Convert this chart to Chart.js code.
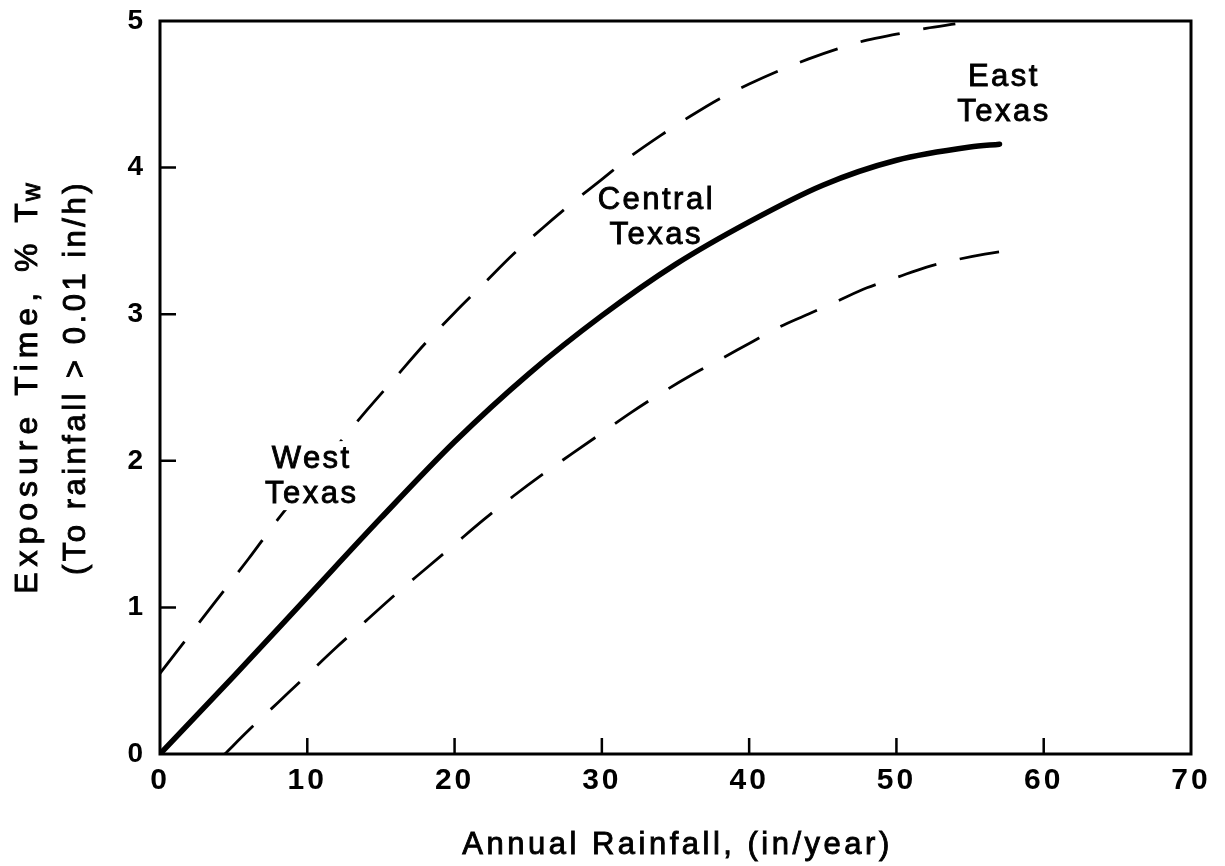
<!DOCTYPE html>
<html lang="en">
  <head>
    <meta charset="UTF-8" />
    <title>Exposure Time vs Annual Rainfall</title>
    <script src="https://cdn.jsdelivr.net/npm/chart.js"></script>
    <style>
      body { margin: 0; background: #fff; }
      #wrap { width: 1225px; height: 866px; position: relative; }
    </style>
  </head>
  <body>
    <div id="wrap"><canvas id="rainChart"></canvas></div>

    <script>
      // values
      const xTicks = [0, 10, 20, 30, 40, 50, 60, 70];
      const yTicks = [0, 1, 2, 3, 4, 5];

      const solidX = [0, 5, 10, 15, 20, 25, 30, 35, 40, 45, 50, 55, 57];
      const solidY = [0, 0.53, 1.07, 1.61, 2.13, 2.59, 2.99, 3.34, 3.63, 3.88, 4.05, 4.14, 4.16];

      const upperX = [0, 2, 4, 6, 8, 10, 12, 14, 16, 18, 20, 22, 24, 26, 28, 30, 32, 34, 36, 38, 40, 42, 44, 46, 48, 50, 52, 54];
      const upperY = [0.55, 0.81, 1.07, 1.33, 1.6, 1.85, 2.1, 2.34, 2.57, 2.8, 3.01, 3.21, 3.41, 3.59, 3.76, 3.92, 4.08, 4.22, 4.35, 4.47, 4.57, 4.66, 4.74, 4.81, 4.87, 4.91, 4.95, 4.98];

      const lowerX = [4.4, 6, 8, 10, 12, 14, 16, 18, 20, 22, 24, 26, 28, 30, 32, 34, 36, 38, 40, 42, 44, 46, 48, 50, 52, 54, 56, 58];
      const lowerY = [0, 0.16, 0.35, 0.54, 0.73, 0.91, 1.09, 1.26, 1.43, 1.6, 1.76, 1.91, 2.05, 2.19, 2.33, 2.46, 2.58, 2.69, 2.8, 2.91, 3.0, 3.09, 3.18, 3.25, 3.32, 3.37, 3.41, 3.44];

      // West Texas sits over the upper dashed curve, which breaks for it
      const regionLabels = [
        { lines: ['West', 'Texas'], x: 10.3, y: 1.95, knockout: true },
        { lines: ['Central', 'Texas'], x: 33.7, y: 3.72, knockout: false },
        { lines: ['East', 'Texas'], x: 57.3, y: 4.56, knockout: false },
      ];

      const toPoints = (xs, ys) => xs.map((x, i) => ({ x: x, y: ys[i] }));
      const FONT = '"Liberation Sans", Arial, Helvetica, sans-serif';

      // medium-weight text: fill plus a thin outline
      function heavyText(ctx, t, x, y) {
        ctx.fillText(t, x, y);
        ctx.strokeText(t, x, y);
      }

      // box, inward ticks, region labels and axis titles
      const frame = {
        id: 'frame',
        beforeDraw(chart) {
          chart.ctx.letterSpacing = '3px';
        },
        afterDatasetsDraw(chart) {
          const { ctx, chartArea: a, scales } = chart;
          ctx.save();
          ctx.strokeStyle = '#000';
          ctx.lineWidth = 3;
          ctx.strokeRect(a.left, a.top, a.right - a.left, a.bottom - a.top);

          ctx.lineWidth = 2.5;
          ctx.beginPath();
          xTicks.slice(1, -1).forEach((v) => {
            const px = scales.x.getPixelForValue(v);
            ctx.moveTo(px, a.bottom);
            ctx.lineTo(px, a.bottom - 16);
          });
          yTicks.slice(1, -1).forEach((v) => {
            const py = scales.y.getPixelForValue(v);
            ctx.moveTo(a.left, py);
            ctx.lineTo(a.left + 16, py);
          });
          ctx.stroke();

          ctx.lineWidth = 0.9;
          ctx.letterSpacing = '2.5px';
          ctx.font = '31px ' + FONT;
          ctx.textAlign = 'center';
          ctx.textBaseline = 'alphabetic';
          regionLabels.forEach((l) => {
            const px = scales.x.getPixelForValue(l.x);
            const py = scales.y.getPixelForValue(l.y);
            if (l.knockout) {
              ctx.fillStyle = '#fff';
              l.lines.forEach((t, i) => {
                const w = ctx.measureText(t).width;
                ctx.fillRect(px - w / 2 - 4, py + i * 35 - 27, w + 8, 34);
              });
            }
            ctx.fillStyle = '#000';
            l.lines.forEach((t, i) => heavyText(ctx, t, px, py + i * 35));
          });

          // x title
          ctx.fillStyle = '#000';
          ctx.letterSpacing = '3.5px';
          ctx.font = '31px ' + FONT;
          heavyText(ctx, 'Annual Rainfall, (in/year)', (a.left + a.right) / 2 + 2, 854);

          // y title, two rotated lines
          const cy = (a.top + a.bottom) / 2;
          ctx.save();
          ctx.translate(37, cy - 4);
          ctx.rotate(-Math.PI / 2);
          ctx.textAlign = 'left';
          ctx.letterSpacing = '6px';
          const main = 'Exposure Time, % T';
          ctx.font = '32px ' + FONT;
          const wMain = ctx.measureText(main).width;
          ctx.font = '25px ' + FONT;
          const wSub = ctx.measureText('w').width;
          const start = -(wMain + wSub) / 2;
          ctx.font = '32px ' + FONT;
          heavyText(ctx, main, start, 0);
          ctx.font = '25px ' + FONT;
          heavyText(ctx, 'w', start + wMain - 4, 3);
          ctx.restore();

          ctx.save();
          ctx.translate(85, cy - 10);
          ctx.rotate(-Math.PI / 2);
          ctx.letterSpacing = '3.5px';
          ctx.font = '31px ' + FONT;
          ctx.textAlign = 'center';
          heavyText(ctx, '(To rainfall > 0.01 in/h)', 0, 0);
          ctx.restore();

          ctx.restore();
        },
      };

      const ctxRain = document.getElementById('rainChart').getContext('2d');
      ctxRain.letterSpacing = '3px';

      const rainChart = new Chart(ctxRain, {
        type: 'scatter',
        data: {
          datasets: [
            {
              label: 'Average',
              data: toPoints(solidX, solidY),
              showLine: true,
              borderColor: '#000',
              borderWidth: 5.5,
              borderCapStyle: 'round',
              pointRadius: 0,
              cubicInterpolationMode: 'monotone',
            },
            {
              label: 'Upper',
              data: toPoints(upperX, upperY),
              showLine: true,
              borderColor: '#000',
              borderWidth: 2.8,
              borderDash: [40, 24],
              pointRadius: 0,
              cubicInterpolationMode: 'monotone',
            },
            {
              label: 'Lower',
              data: toPoints(lowerX, lowerY),
              showLine: true,
              borderColor: '#000',
              borderWidth: 2.8,
              borderDash: [40, 24],
              pointRadius: 0,
              cubicInterpolationMode: 'monotone',
            },
          ],
        },
        options: {
          responsive: true,
          maintainAspectRatio: false,
          animation: false,
          layout: { padding: { left: 0, top: 21, right: 34, bottom: 0 } },
          plugins: {
            legend: { display: false },
            tooltip: { enabled: false },
          },
          scales: {
            x: {
              type: 'linear',
              min: 0,
              max: 70,
              afterBuildTicks: (s) => { s.ticks = xTicks.map((v) => ({ value: v })); },
              afterFit: (s) => {
                s.height = 112;
                s.paddingLeft = 0;
                s.paddingRight = 0;
              },
              ticks: {
                color: '#000',
                padding: 9,
                font: { family: FONT, size: 30, weight: 'bold' },
              },
              grid: { display: false, drawTicks: false },
              border: { display: false },
            },
            y: {
              min: 0,
              max: 5,
              afterBuildTicks: (s) => { s.ticks = yTicks.map((v) => ({ value: v })); },
              afterFit: (s) => {
                s.width = 160;
                s.paddingTop = 0;
                s.paddingBottom = 0;
              },
              ticks: {
                color: '#000',
                padding: 14,
                font: { family: FONT, size: 28, weight: 'bold' },
              },
              grid: { display: false, drawTicks: false },
              border: { display: false },
            },
          },
        },
        plugins: [frame],
      });
    </script>
  </body>
</html>
